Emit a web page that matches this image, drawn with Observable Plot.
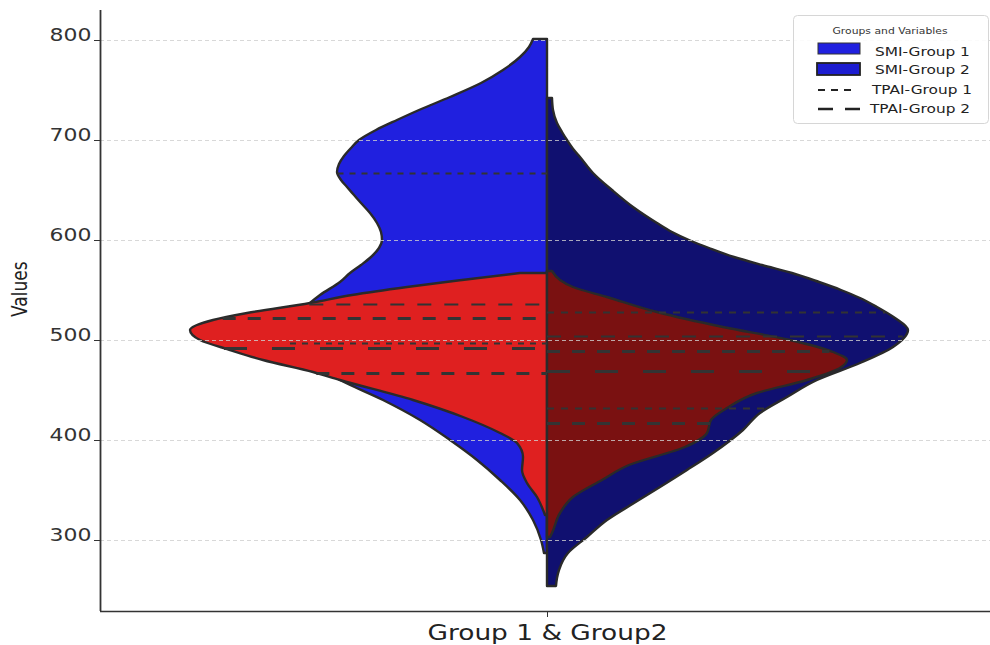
<!DOCTYPE html>
<html>
<head>
<meta charset="utf-8">
<script src="https://cdn.jsdelivr.net/npm/d3@7"></script>
<script src="https://cdn.jsdelivr.net/npm/@observablehq/plot@0.6"></script>
<style>
  html,body{margin:0;padding:0;background:#fff;}
  #chart{position:relative;width:990px;height:645px;overflow:hidden;}
  #legend{position:absolute;left:793px;top:15px;}
</style>
</head>
<body>
<div id="chart"></div>
<script>
// ---------------- data ----------------
const categoryLabel = "Group 1 & Group2";
const yLabel = "Values";
const yTicks = [300, 400, 500, 600, 700, 800];
const legendTitle = "Groups and Variables";
const seriesNames = ["SMI-Group 1", "SMI-Group 2", "TPAI-Group 1", "TPAI-Group 2"];

// SMI - Group 1 (left half): value, relative density (half width)
const smi1Values  = [287,300,320,340,360,380,400,420,440,460,480,497,515,537,545,558,567,575,583,592,600,608,617,627,637,645,653,660,668,676,684,692,700,710,720,730,743,757,770,783,793,801];
const smi1Density = [0.03,0.06,0.14,0.27,0.47,0.70,0.97,1.27,1.64,2.07,2.40,2.57,2.52,2.37,2.27,2.07,1.97,1.86,1.76,1.68,1.65,1.66,1.70,1.77,1.86,1.93,2.00,2.06,2.10,2.08,2.03,1.96,1.88,1.71,1.50,1.28,0.97,0.66,0.44,0.27,0.18,0.14];
// SMI - Group 2 (right half)
const smi2Values  = [254,262,270,287,303,320,337,353,370,387,410,427,443,460,477,493,510,522,533,542,550,558,567,575,583,592,600,608,617,633,650,667,683,690,700,708,717,730,742];
const smi2Density = [0.09,0.10,0.12,0.21,0.40,0.60,0.87,1.13,1.40,1.66,1.96,2.13,2.40,2.70,3.13,3.46,3.61,3.48,3.30,3.13,2.94,2.72,2.45,2.15,1.87,1.62,1.42,1.25,1.10,0.86,0.65,0.46,0.33,0.27,0.20,0.15,0.10,0.06,0.05];
// TPAI - Group 1 (left half)
const tpai1Values  = [325,343,357,370,383,397,407,423,440,460,468,480,490,500,510,520,527,537,545,553,560,567];
const tpai1Density = [0.02,0.10,0.20,0.25,0.24,0.30,0.47,0.84,1.34,2.07,2.34,2.84,3.17,3.47,3.57,3.34,3.00,2.37,1.95,1.40,0.85,0.27];
// TPAI - Group 2 (right half)
const tpai2Values  = [303,307,327,343,360,375,393,407,420,432,447,460,472,480,488,500,513,528,543,553,560,569];
const tpai2Density = [0.03,0.05,0.13,0.26,0.55,0.82,1.38,1.60,1.64,1.80,2.10,2.60,2.93,3.00,2.86,2.43,1.76,1.10,0.60,0.26,0.13,0.05];

// quartiles [Q1, median, Q3]
const smi1Quartiles  = [497, 536, 667];
const smi2Quartiles  = [432, 504, 528];
const tpai1Quartiles = [467, 492, 522];
const tpai2Quartiles = [417, 469, 489];

// ---------------- styles ----------------
const colors = {smi1: "#2020df", smi2: "#101070", tpai1: "#df2020", tpai2: "#7a1111"};
const outline = "#2a2a2a";
const lineColor = "#333333";
const fontFamily = "'DejaVu Sans', sans-serif";

function profile(values, dens, side) {
  return values.map((v, i) => ({value: v, d: side * dens[i]}));
}
function quartileRows(q, values, dens, side) {
  const w = d3.scaleLinear().domain(values).range(dens).clamp(true);
  return q.map((v, i) => ({value: v, edge: side * w(v), median: i === 1}));
}

const smi1Area = profile(smi1Values, smi1Density, -1);
const smi2Area = profile(smi2Values, smi2Density, 1);
const tpai1Area = profile(tpai1Values, tpai1Density, -1);
const tpai2Area = profile(tpai2Values, tpai2Density, 1);

const violin = (data, fill) => Plot.areaX(data, {
  y: "value", x1: 0, x2: "d", fill, stroke: outline, strokeWidth: 2.4,
  strokeLinejoin: "round", curve: "monotone-y"
});

function qLines(rows, side, qDash, mDash, w) {
  const pos = side < 0 ? {x1: "edge", x2: 0} : {x1: 0, x2: "edge"};
  return [
    Plot.ruleY(rows.filter(d => !d.median), {y: "value", ...pos, stroke: lineColor, strokeWidth: w, strokeDasharray: qDash}),
    Plot.ruleY(rows.filter(d => d.median), {y: "value", ...pos, stroke: lineColor, strokeWidth: w, strokeDasharray: mDash})
  ];
}

const xDomain = [-4.47, 4.43];
const yDomain = [229, 830];

const chart = Plot.plot({
  width: 990, height: 645,
  marginLeft: 100, marginRight: 0, marginTop: 10, marginBottom: 34,
  x: {domain: xDomain},
  y: {domain: yDomain},
  style: {fontFamily, background: "#fff", overflow: "visible"},
  marks: [
    violin(smi1Area, colors.smi1),
    violin(smi2Area, colors.smi2),
    violin(tpai1Area, colors.tpai1),
    violin(tpai2Area, colors.tpai2),
    Plot.gridY({ticks: yTicks, stroke: "#cfcfcf", strokeOpacity: 0.9, strokeDasharray: "4,3", strokeWidth: 0.9}),
    ...qLines(quartileRows(smi1Quartiles, smi1Values, smi1Density, -1), -1, "6,6", "14,13", 2),
    ...qLines(quartileRows(smi2Quartiles, smi2Values, smi2Density, 1), 1, "7,7", "14,13", 2),
    ...qLines(quartileRows(tpai1Quartiles, tpai1Values, tpai1Density, -1), -1, "13,12", "23,25", 3),
    ...qLines(quartileRows(tpai2Quartiles, tpai2Values, tpai2Density, 1), 1, "13,12", "23,25", 3),
    Plot.ruleX([xDomain[0]], {stroke: "#333", strokeWidth: 1.8}),
    Plot.ruleY([yDomain[0]], {stroke: "#333", strokeWidth: 1.6}),
    Plot.axisY({ticks: yTicks, tickSize: 6, tickPadding: 3, fontSize: 18, label: null, stroke: "#333", fill: "#333"}),
    Plot.axisX({ticks: [0], tickFormat: () => categoryLabel, tickSize: 6, tickPadding: 22, fontSize: 22, label: null, stroke: "#333", fill: "#222"}),
    Plot.text([yLabel], {frameAnchor: "left", dx: -74, dy: 6, rotate: -90, fontSize: 17, fill: "#222"})
  ]
});

document.getElementById("chart").appendChild(chart);

// horizontal stretch of glyphs, as in the reference
function stretch(t, sx) {
  const x = t.getAttribute("x"), y = t.getAttribute("y");
  let tr = t.getAttribute("transform") || "";
  let pre = "";
  if (x !== null || y !== null) {
    pre = ` translate(${+x || 0},${+y || 0})`;
    t.removeAttribute("x"); t.removeAttribute("y");
  }
  if (/rotate\(/.test(tr)) tr = tr.replace(/rotate\(/, `scale(${sx},1) rotate(`);
  else tr = tr + pre + ` scale(${sx},1)`;
  t.setAttribute("transform", tr.trim());
}
chart.querySelectorAll('g[aria-label="y-axis tick label"] text').forEach(t => stretch(t, 1.22));
chart.querySelectorAll('g[aria-label="x-axis tick label"] text').forEach(t => stretch(t, 1.2));
chart.querySelectorAll('g[aria-label="text"] text').forEach(t => stretch(t, 1.22));

// ---------------- legend ----------------
const L = d3.select("#chart").append("svg").attr("id", "legend")
  .attr("width", 197).attr("height", 111)
  .style("font-family", fontFamily);
L.append("rect").attr("x", 0.5).attr("y", 0.5).attr("width", 195).attr("height", 108)
  .attr("rx", 4).attr("fill", "#fff").attr("fill-opacity", 0.9).attr("stroke", "#d6d6d6");
const lt = L.append("text").attr("x", 97).attr("y", 19).attr("text-anchor", "middle")
  .attr("font-size", 9).attr("fill", "#333").text(legendTitle);
stretch(lt.node(), 1.2);
L.append("rect").attr("x", 25).attr("y", 28).attr("width", 42).attr("height", 11)
  .attr("fill", colors.smi1).attr("stroke", "#333").attr("stroke-width", 1);
L.append("rect").attr("x", 24).attr("y", 48).attr("width", 43).attr("height", 12)
  .attr("fill", "#1c1cd0").attr("stroke", "#222").attr("stroke-width", 1.8);
L.append("line").attr("x1", 25).attr("x2", 61).attr("y1", 75).attr("y2", 75)
  .attr("stroke", "#222").attr("stroke-width", 2.2).attr("stroke-dasharray", "7,6");
L.append("line").attr("x1", 25).attr("x2", 67).attr("y1", 94).attr("y2", 94)
  .attr("stroke", "#222").attr("stroke-width", 2.4).attr("stroke-dasharray", "15,12");
const rowsY = [41, 59, 79, 98];
const rowsX = [82, 82, 79, 77];
seriesNames.forEach((name, i) => {
  const t = L.append("text").attr("x", rowsX[i]).attr("y", rowsY[i])
    .attr("font-size", 13).attr("fill", "#222").text(name);
  stretch(t.node(), 1.18);
});
</script>
</body>
</html>
